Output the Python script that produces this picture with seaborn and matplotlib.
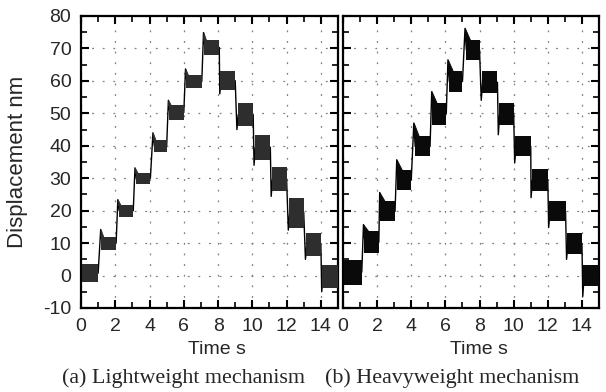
import numpy as np
import pandas as pd
import seaborn as sns
import matplotlib
matplotlib.use("Agg")
import matplotlib.pyplot as plt
from matplotlib.ticker import MultipleLocator

# ---------------- data ----------------
# (a) Lightweight mechanism: each step = a noisy band
a_start = [0.00, 1.15, 2.15, 3.15, 4.20, 5.10, 6.10, 7.15, 8.10, 9.10, 10.10, 11.10, 12.10, 13.10, 14.05]
a_end   = [1.00, 2.05, 3.05, 4.05, 5.00, 6.00, 7.05, 8.07, 9.00, 10.05, 11.05, 12.00, 13.00, 14.00, 15.00]
a_low   = [-2.0, 8.0, 18.2, 28.3, 38.0, 48.0, 57.8, 68.0, 57.2, 46.0, 35.7, 26.0, 14.8, 6.0, -3.7]
a_high  = [3.5, 12.0, 21.8, 31.7, 41.8, 52.5, 61.8, 72.6, 62.9, 53.2, 43.4, 33.6, 24.0, 13.2, 3.4]
a_spike = [2.0, 14.2, 23.4, 33.2, 44.0, 54.0, 63.7, 74.9, 56.0, 45.0, 34.0, 24.4, 14.0, 5.0, -5.0]

# (b) Heavyweight mechanism
b_start = [0.00, 1.20, 2.15, 3.15, 4.15, 5.20, 6.15, 7.15, 8.10, 9.10, 10.06, 11.02, 12.05, 13.10, 14.05]
b_end   = [1.10, 2.10, 3.05, 4.00, 5.10, 6.05, 7.00, 8.00, 9.05, 10.00, 11.00, 12.00, 13.04, 14.00, 15.00]
b_low   = [-2.8, 7.0, 16.7, 26.5, 36.7, 46.5, 56.7, 66.5, 56.2, 46.5, 36.7, 26.0, 16.7, 6.5, -3.3]
b_high  = [4.9, 13.6, 22.9, 32.6, 42.9, 53.1, 62.9, 72.6, 62.9, 53.2, 42.9, 32.9, 22.9, 13.2, 3.4]
b_spike = [5.5, 15.7, 25.6, 35.7, 47.0, 56.7, 66.5, 76.2, 54.0, 43.4, 34.7, 24.0, 14.8, 5.0, -6.4]

x_ticks = [0, 2, 4, 6, 8, 10, 12, 14]
y_ticks = [-10, 0, 10, 20, 30, 40, 50, 60, 70, 80]
x_label = "Time s"
y_label = "Displacement nm"
captions = ["(a) Lightweight mechanism", "(b) Heavyweight mechanism"]

# ---------------- style ----------------
sns.set_style("ticks")
plt.rcParams["font.family"] = ["Liberation Sans", "DejaVu Sans"]
plt.rcParams["xtick.direction"] = "in"
plt.rcParams["ytick.direction"] = "in"
plt.rcParams["axes.unicode_minus"] = False

W, H = 606, 392
fig = plt.figure(figsize=(W / 100, H / 100), dpi=100)
ax_a = fig.add_axes([81 / W, 1 - 308 / H, 257 / W, 292 / H])
ax_b = fig.add_axes([343 / W, 1 - 308 / H, 256 / W, 292 / H])


def build_trace(start, end, low, high, spike):
    rows = []
    for i in range(len(start)):
        mid = (low[i] + high[i]) / 2
        rows.append((start[i], spike[i]))
        rows.append((start[i] + 0.08, mid))
        rows.append((end[i], mid))
    return pd.DataFrame(rows, columns=["t", "d"])


def draw(ax, start, end, low, high, spike, band_color, flag_w):
    trace = build_trace(start, end, low, high, spike)
    sns.lineplot(data=trace, x="t", y="d", sort=False, estimator=None,
                 color="black", linewidth=1.0, ax=ax, zorder=3)
    for i in range(len(start)):
        ax.fill_between([start[i] + 0.04, end[i]], [low[i], low[i]], [high[i], high[i]],
                        color=band_color, linewidth=0, zorder=4)
        if spike[i] > high[i] and i > 0:
            # overshoot "flag" at the start of a rising step
            ax.fill_between([start[i] - 0.02, start[i], start[i] + flag_w],
                            [high[i], high[i], high[i]],
                            [high[i], spike[i], high[i]],
                            color=band_color, linewidth=0.6, edgecolor=band_color, zorder=4)
    ax.set_xlim(0, 15)
    ax.set_ylim(-10, 80)
    ax.set_xticks(x_ticks)
    ax.set_yticks(y_ticks)
    ax.xaxis.set_minor_locator(MultipleLocator(1))
    ax.yaxis.set_minor_locator(MultipleLocator(5))
    ax.tick_params(which="major", length=6, width=1.5, top=True, right=True,
                   labelsize=14, pad=7, color="black")
    ax.tick_params(which="minor", length=4, width=1.2, top=True, right=True, color="black")
    ax.grid(True, which="major", color="#808080", linestyle=(0, (1.5, 7)), linewidth=0.9)
    for s in ax.spines.values():
        s.set_linewidth(1.6)
        s.set_color("black")
        s.set_visible(True)
    ax.set_xlabel(x_label, fontsize=14)
    ax.xaxis.set_label_coords(0.53, -0.112)


draw(ax_a, a_start, a_end, a_low, a_high, a_spike, "#2e2e2e", 0.15)
draw(ax_b, b_start, b_end, b_low, b_high, b_spike, "#0a0a0a", 0.3)

ax_a.set_ylabel(y_label, fontsize=16)
ax_a.yaxis.set_label_coords(-0.205, 0.5)
ax_b.set_ylabel("")
ax_b.tick_params(labelleft=False)

fig.text(62 / W, 1 - 378 / H, captions[0], ha="left", va="center",
         fontsize=15.8, family=["Liberation Serif", "DejaVu Serif"])
fig.text(325 / W, 1 - 378 / H, captions[1], ha="left", va="center",
         fontsize=15.8, family=["Liberation Serif", "DejaVu Serif"])

fig.savefig("out.png", dpi=100)
